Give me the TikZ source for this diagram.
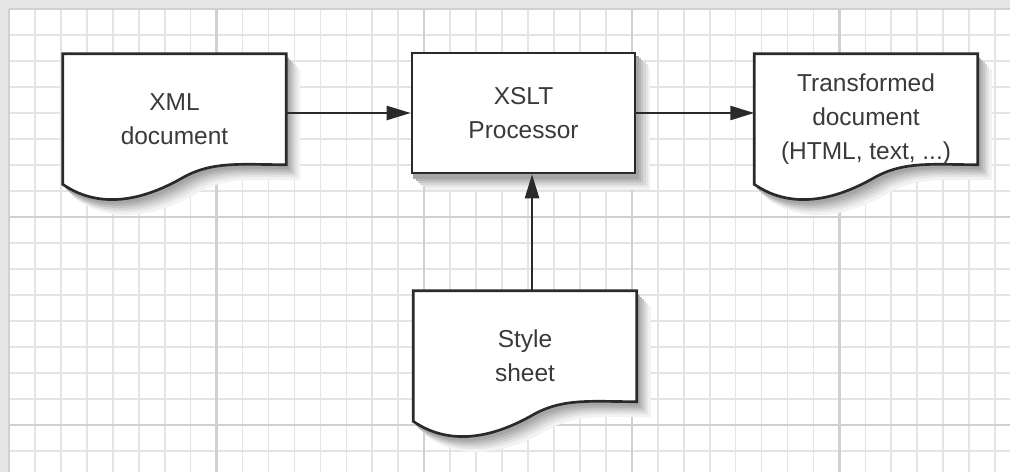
\documentclass[tikz,border=0pt]{standalone}
\usepackage{fontspec}
\setmainfont{Liberation Sans}
\usetikzlibrary{calc,arrows.meta,backgrounds}

\definecolor{inkline}{HTML}{2A2A2A}
\definecolor{inktext}{HTML}{3A3A3A}
\definecolor{gridminor}{HTML}{E4E4E4}
\definecolor{gridmajor}{HTML}{D0D0D0}
\definecolor{margin}{HTML}{E6E6E6}

% outline of a document sheet with a wavy bottom
\newcommand{\docoutline}[1]{(#1.north west) -- (#1.north east) -- ($(#1.north east)+(0,111)$)
  .. controls ($(#1.north west)+(180,111)$) and ($(#1.north west)+(150,107)$) .. ($(#1.north west)+(120,124)$)
  .. controls ($(#1.north west)+(85,144)$) and ($(#1.north west)+(40,158)$) .. (#1.south west) -- cycle}

\tikzset{
  boxfont/.style={text=inktext,align=center,font=\fontsize{17.4}{24}\selectfont},
  procbox/.style={boxfont,draw=inkline,line width=1.9pt,fill=white,minimum width=5.575cm,minimum height=3cm},
  docbox/.style={boxfont,inner sep=0pt,minimum width=5.575cm,minimum height=3.25cm},
  docline/.style={draw=inkline,line width=1.9pt,fill=white},
  minorgrid/.style={gridminor,line width=1.2pt},
  majorgrid/.style={gridmajor,line width=1.6pt},
  arr/.style={inkline,line width=1.6pt,-{Triangle[length=17pt,width=10pt]}},
}

\begin{document}
\begin{tikzpicture}[x=0.025cm,y=-0.025cm]
          \useasboundingbox (0,0) rectangle (1010,472);

          % paper with grid
          \begin{scope}[on background layer]
            \fill[margin] (0,0) rectangle (1010,472);
            \fill[white] (9,9) rectangle (1010,472);
            \foreach \i in {1,...,38} \draw[minorgrid] ({9+25.95*\i},9) -- ({9+25.95*\i},472);
            \foreach \j in {1,...,17} \draw[minorgrid] (9,{9+26*\j}) -- (1010,{9+26*\j});
            \foreach \i in {0,8,16,24,32} \draw[majorgrid] ({9+25.95*\i},9) -- ({9+25.95*\i},472);
            \foreach \j in {0,8,16} \draw[majorgrid] (9,{9+26*\j}) -- (1010,{9+26*\j});
          \end{scope}

          \node[docbox] (xml) at (174.5,119) {XML\\document};
          \node[procbox] (proc) at (523.5,113) {XSLT\\Processor};
          \node[docbox] (trans) at (866,119) {Transformed\\document\\(HTML, text, ...)};
          \node[docbox] (sheet) at (525,356) {Style\\sheet};

          % shadows, then document outlines under the texts
          \begin{scope}[on background layer]
            \foreach \s/\c in {10/10,8/20,6.5/32,5/45,3.5/58,2/70}{
              \begin{scope}[transform canvas={xshift=\s pt,yshift=-\s pt-1pt}]
                \fill[gray!\c] (proc.north west) rectangle (proc.south east);
                \foreach \d in {xml,trans,sheet} \fill[gray!\c] \docoutline{\d};
              \end{scope}
            }
            \foreach \d in {xml,trans,sheet} \draw[docline] \docoutline{\d};
          \end{scope}

          \draw[arr] (proc.west -| xml.east) -- (proc.west);
          \draw[arr] (proc.east) -- (proc.east -| trans.west);
          \draw[arr] ([xshift=5pt]sheet.north) -- ([xshift=5pt]sheet.north |- proc.south);
\end{tikzpicture}
\end{document}
